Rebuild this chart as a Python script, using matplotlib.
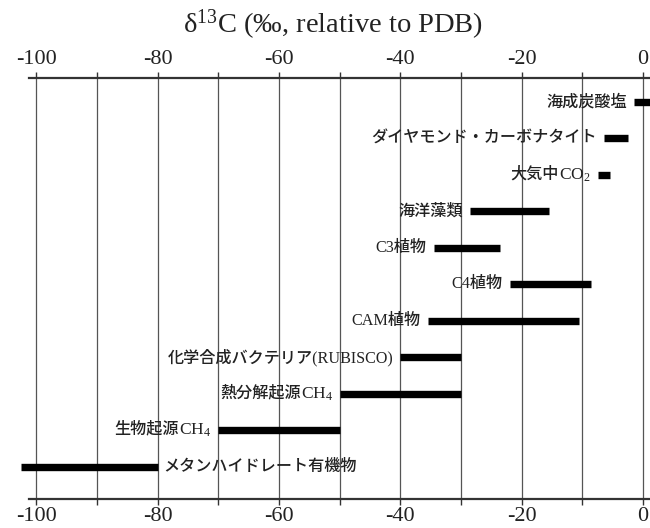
import matplotlib
matplotlib.use("Agg")
import matplotlib.pyplot as plt
from matplotlib.ticker import MultipleLocator

plt.rcParams["axes.unicode_minus"] = False
plt.rcParams["mathtext.fontset"] = "custom"
plt.rcParams["mathtext.rm"] = "Liberation Serif"
plt.rcParams["mathtext.it"] = "Liberation Serif:italic"

# carbon isotope ranges (per mil, relative to PDB), top row first
sources = [
    "海成炭酸塩",
    "ダイヤモンド・カーボナタイト",
    "大気中$\\mathrm{CO_2}$",
    "海洋藻類",
    "C3植物",
    "C4植物",
    "CAM植物",
    "化学合成バクテリア(RUBISCO)",
    "熱分解起源$\\mathrm{CH_4}$",
    "生物起源$\\mathrm{CH_4}$",
    "メタンハイドレート有機物",
]
d13c_low = [-1.5, -6.5, -7.5, -28.5, -34.5, -22, -35.5, -40, -50, -70, -102.5]
d13c_high = [2, -2.5, -5.5, -15.5, -23.5, -8.5, -10.5, -30, -30, -50, -80]

label_font = ["Liberation Serif", "Noto Sans CJK JP", "DejaVu Serif"]
label_kw = dict(fontsize=11.6, color="#222222", family=label_font,
                weight="medium", va="center")

fig = plt.figure(figsize=(6.5, 5.28), dpi=100)
ax = fig.add_axes([0.0451, 0.0549, 0.9549, 0.7979])

rows = range(len(sources))
ax.hlines(rows, d13c_low, d13c_high, colors="black", linewidth=5.3,
          capstyle="butt", clip_on=False, zorder=3)

for i, (name, lo, hi) in enumerate(zip(sources, d13c_low, d13c_high)):
    if lo < -100:
        # bar starts off the left edge, so the name goes on its right
        ax.annotate(name, (hi, i), xytext=(4, 0), textcoords="offset points",
                    ha="left", **label_kw)
    elif "$" in name:
        # formula drawn with mathtext, the Japanese part placed to its left
        jp, formula = name.split("$", 1)
        f = ax.annotate("$" + formula, (lo, i), xytext=(-5, 0),
                        textcoords="offset points", ha="right",
                        fontsize=12.5, color="#222222", va="center")
        ax.annotate(jp, (0, 0.5), xycoords=f, xytext=(0, 0.5),
                    textcoords="offset points", ha="right", **label_kw)
    else:
        ax.annotate(name, (lo, i), xytext=(-5, 0), textcoords="offset points",
                    ha="right", **label_kw)

ax.set_xlim(-101.15, 1.15)
ax.set_ylim(10.886, -0.666)

for x in range(-100, 1, 10):
    ax.axvline(x, color="#555555", linewidth=0.9, zorder=1)

ax.xaxis.set_major_locator(MultipleLocator(20))
ax.xaxis.set_minor_locator(MultipleLocator(10))
ax.tick_params(axis="x", which="both", top=True, bottom=True,
               labeltop=True, labelbottom=True, direction="out",
               length=4, width=1, color="#333333", pad=2,
               labelsize=16, labelcolor="#222222")
for lab in ax.get_xticklabels():
    lab.set_family("Liberation Serif")
ax.set_yticks([])

for side in ("left", "right"):
    ax.spines[side].set_visible(False)
for side in ("top", "bottom"):
    ax.spines[side].set_linewidth(1.6)
    ax.spines[side].set_color("#333333")

fig.text(0.512, 1 - 33 / 528, "δ$^{\\mathrm{13}}$C (‰, relative to PDB)",
         ha="center", va="baseline", fontsize=20.5, color="#222222",
         family="Liberation Serif")

fig.savefig("out.png", dpi=100)
